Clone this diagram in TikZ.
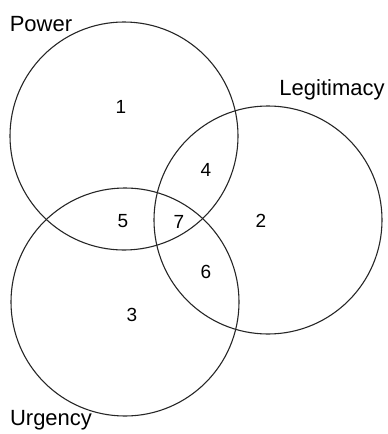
\documentclass[tikz,border=0pt]{standalone}
\usepackage{fontspec}
\setmainfont{Liberation Sans}

\begin{document}
\begin{tikzpicture}[x=1pt,y=-1pt,
    setline/.style={draw=black!85, line width=1.1pt},
    setname/.style={font=\fontsize{22}{26}\selectfont, inner sep=0pt},
    region/.style={font=\fontsize{19}{22}\selectfont, inner sep=0pt}]
  \useasboundingbox (0,0) rectangle (388,434);
  % the three circles
  \coordinate (power) at (124,136);
  \coordinate (legit) at (268,220);
  \coordinate (urgency) at (125,302);
  \draw[setline] (power) circle (114pt);
  \draw[setline] (legit) circle (114pt);
  \draw[setline] (urgency) circle (114pt);
  % names
  \node[setname] (powername) at (41,24) {Power};
  \node[setname] (legitname) at (332,90) {Legitimacy};
  \node[setname] (urgencyname) at (51,420) {Urgency};
  % regions
  \node[region] (r1) at (121,107) {1};
  \node[region] (r2) at (261,221) {2};
  \node[region] (r3) at (132,315) {3};
  \node[region] (r4) at (206,170) {4};
  \node[region] (r5) at (123,221) {5};
  \node[region] (r6) at (206,272) {6};
  \node[region] (r7) at (179,222) {7};
\end{tikzpicture}
\end{document}
